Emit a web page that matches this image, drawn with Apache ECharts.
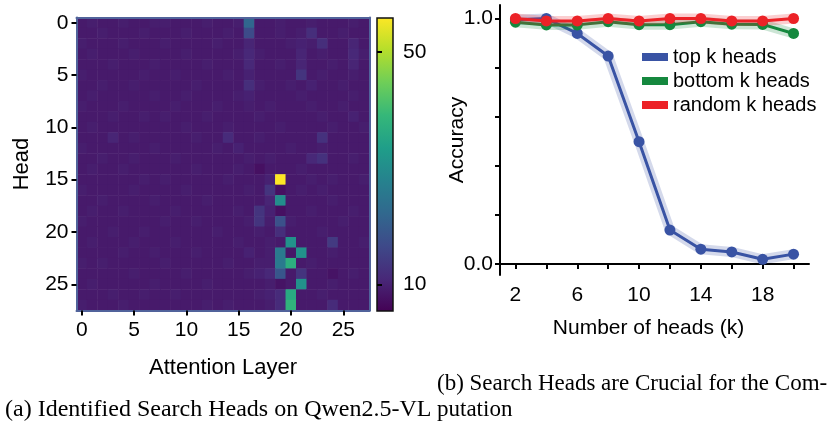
<!DOCTYPE html>
<html>
<head>
<meta charset="utf-8">
<script src="https://cdn.jsdelivr.net/npm/echarts@6/dist/echarts.min.js"></script>
<style>
  html, body { margin: 0; padding: 0; background: #fff; }
  #chart { width: 831px; height: 423px; }
</style>
</head>
<body>
<div id="chart"></div>
<script>
// ---- (a) search-head scores: rows = heads 0..27, columns = attention layers 0..27 ----
const layers = Array.from({ length: 28 }, (_, i) => String(i));
const heads = Array.from({ length: 28 }, (_, i) => String(i));
const headScores = [
  [9,9.5,9,9,9.5,9,9, 9.5,9.5,9,9,9,9.5,9, 9,9.5,22,9,9,9.5,9, 9,9.5,9,9,9,9.5,9],
  [9,9,9.5,9,9,9,9.5, 9,9,9,9.5,9,9,9, 9.5,9,17,9,9,9.5,9, 9.5,12,9,9,9.5,9,9],
  [9.5,9,9,9,9.5,9,9, 9,9.5,9,9,9,9,9.5, 9,9,10.5,9,9,9,9.5, 10,9.5,12,9,9,10.5,9],
  [9,9.5,9,9,9,9.5,9, 9,9,9,9.5,9,9,9, 9,9.5,11,9.5,9,9,9, 10.5,9,9.5,9,9,11,9.5],
  [9,9,9,9.5,9,9,9, 9.5,9,9,9,9,9.5,9, 9,9,11,9,9,9.5,9, 10.5,9,9,9.5,9,10.5,9],
  [9.5,9,9,9,9,9,9.5, 9,9,9.5,9,9,9,9, 9.5,9,10,9,9,9,9, 13,9,9.5,9,9,9.5,9],
  [9,9,9.5,9,9,9.5,9, 9,9,9,9,9.5,9,9, 9,9,12,9.5,9,9,9.5, 9,10,9,9,9.5,9,9],
  [9,9.5,9,9,9,9,9, 9.5,9,9,9.5,9,9,9, 9,9.5,10,9,9,9,9, 9.5,9,9,9,9,9.5,9],
  [9.5,9,9,9,9.5,9,9, 9,9,9.5,9,9,9,9.5, 9,9,9.5,9,9.5,9,9, 9,9.5,9,9,9.5,9,9],
  [9,9,9,9.5,9,9,9.5, 9,9.5,9,9,9,9.5,9, 9,9,9,9.5,9,9,9, 9,9,9.5,9,9,10,9],
  [9,9.5,9,9,9,9,9, 9,9,9,9.5,9,9,9, 9.5,9,9,9,9,9.5,9, 9,9,9,9.5,9,9,9.5],
  [9,9,9,10.5,9,9.5,9, 9,9,9,9,9.5,9,9, 11.5,9,9,9.5,9,9,9, 9,9,12.5,9,9,9,9],
  [9.5,9,9,9,9,9,9, 9.5,9,9,9,9,9,9.5, 9,10,9,9,9,9,9.5, 9,9,9.5,9,9,9,9],
  [9,9,9.5,9,9,9.5,9, 9,9,9.5,9,9,9,9, 9,9,9.5,9,9.5,9,9, 9,11,12.5,9,9,9.5,9],
  [9,9.5,9,9,9.5,9,9, 9,9,9,9,9.5,9,9, 9,9.5,9,7.5,9,9,9, 9.5,9,9,9,9,9,9],
  [9,9,9,9,9,9,9.5, 9,9.5,9,9,9,9,9, 9.5,9,9,9,10,55.8,9, 9,9.5,9,9.5,9,9,9.5],
  [9.5,9,9,9,9,9.5,9, 9,9,9,9.5,9,9,9, 9,9,9.5,9,13,7.5,9, 9.5,9,9.5,9,9,9,9],
  [9,9,9.5,9,9,9,9, 9.5,9,9,9,9,9.5,9, 9,9,9,9,10.5,30,9, 9,9,9,9.5,9,9,9],
  [9,9.5,9,9,9.5,9,9, 9,9,9.5,9,9,9,9, 9,9.5,9,13,10,7.5,9, 9,9.5,9,9,9,9.5,9],
  [9.5,9,9,9,9,9,9, 9,9.5,9,9,9.5,9,9, 9,9,9.5,13,9.5,18,9.5, 9,9,9,9,9.5,9,9],
  [9,9,9,9.5,9,9,9.5, 9,9,9,9,9,9,9.5, 9,9,9,9.5,9,12,9, 9,9,9.5,9,9,9,9],
  [9,9.5,9,9,9,9.5,9, 9,9,9.5,9,9,9,9, 9,9.5,9,9,9.5,9,31, 9,9,9,14,9,9,9.5],
  [9,9,9,9,9.5,9,9, 9.5,9,9,9,9.5,9,9, 9,9,10,9,9.5,26,8.5, 31,9,9,9.5,9,9,9],
  [9.5,9,9.5,9,9,9,9, 9,9.5,9,9,9,9,9, 9.5,9,9,9.5,9.5,26,37, 9,9.5,9,9,9,9,9],
  [9,9,9,9,9,9.5,9, 9,9,9,9.5,9,9,9, 9,9,9.5,10,11,19,9, 13,9,9,8,9,9.5,9],
  [9,9.5,9,9,9,9,9, 9.5,9,9,9,9,9.5,9, 9,9,9,9,9.5,8,9, 31,9,9,9.5,9,9,9],
  [9,9,9,9.5,9,9,9.5, 9,9,9.5,9,9,9,9, 9,9,9,9.5,10,11.5,36, 9,9,9.5,9,9,9,9],
  [9.5,9,9,9,9.5,9,9, 9,9,9,9,9,9.5,9, 9.5,9,9,9,9.5,11.5,38, 9,9,9,11.5,9,9,9]
];
const scoreMin = 5.4;
const scoreMax = 55.8;
const colorbarTicks = [10, 50];
const heatTickSkip = 4;   // one labelled tick every fifth cell

// ---- (b) accuracy after masking k heads ----
const kValues = [2, 4, 6, 8, 10, 12, 14, 16, 18, 20];
const kLabels = [2, 6, 10, 14, 18];
const topK    = [0.995, 1.0, 0.939, 0.847, 0.498, 0.138, 0.060, 0.049, 0.019, 0.040];
const bottomK = [0.985, 0.974, 0.974, 0.987, 0.975, 0.975, 0.987, 0.977, 0.976, 0.939];
const randomK = [1.0, 0.99, 0.99, 1.0, 0.99, 1.0, 1.0, 0.99, 0.99, 1.0];
const accTicks = [0, 0.2, 0.4, 0.6, 0.8, 1.0];
const accLabels = [0, 1.0];

const viridis = ['#440154', '#482878', '#3e4989', '#31688e', '#26828e',
                 '#1f9e89', '#35b779', '#6ece58', '#b5de2b', '#fde725'];

const FONT = '"Liberation Sans", Arial, Helvetica, sans-serif';
const SERIF = '"Liberation Serif", "Times New Roman", serif';
const frameColor = '#51639b';

const heatData = [];
headScores.forEach((row, h) => row.forEach((v, l) => heatData.push([l, h, v])));

const gradient = new echarts.graphic.LinearGradient(0, 1, 0, 0,
  viridis.map((c, i) => ({ offset: i / (viridis.length - 1), color: c })));

function series(name, color, values, z) {
  const pts = kValues.map((k, i) => [k, values[i]]);
  return [
    { // shaded spread around the mean
      type: 'line', xAxisIndex: 3, yAxisIndex: 3, data: pts, silent: true,
      symbol: 'none', z: z,
      lineStyle: { color: color, width: 10, opacity: 0.22 }
    },
    {
      name: name, type: 'line', xAxisIndex: 3, yAxisIndex: 3, data: pts,
      symbol: 'circle', symbolSize: 11, z: z + 1,
      itemStyle: { color: color },
      lineStyle: { color: color, width: 3 }
    }
  ];
}

const labelStyle = { fontSize: 21, color: '#000', fontFamily: FONT };
const heatTick = { show: true, alignWithLabel: true, interval: heatTickSkip, length: 5,
                   lineStyle: { color: '#000', width: 2 } };

const chart = echarts.init(document.getElementById('chart'), null, { renderer: 'canvas' });
chart.setOption({
  animation: false,
  textStyle: { fontFamily: FONT },
  grid: [
    { left: 76.5, top: 17.5, width: 293, height: 293 },
    { left: 377, top: 18, width: 16, height: 293, show: true,
      backgroundColor: gradient, borderColor: '#111', borderWidth: 1.5 },
    { left: 500, top: 5, width: 309, height: 270 }
  ],
  visualMap: {
    type: 'continuous', show: false, seriesIndex: 0,
    min: scoreMin, max: scoreMax, inRange: { color: viridis }
  },
  xAxis: [
    { gridIndex: 0, type: 'category', data: layers, position: 'bottom', z: 10,
      axisLine: { lineStyle: { color: frameColor, width: 2 } },
      axisTick: heatTick,
      axisLabel: Object.assign({ interval: heatTickSkip, margin: 9 }, labelStyle),
      name: 'Attention Layer', nameLocation: 'middle', nameGap: 46,
      nameTextStyle: { fontSize: 22, color: '#000', fontFamily: FONT } },
    { gridIndex: 0, type: 'category', data: layers, position: 'top', z: 10,
      axisLine: { lineStyle: { color: frameColor, width: 2 } },
      axisTick: { show: false }, axisLabel: { show: false } },
    { gridIndex: 1, type: 'value', show: false, min: 0, max: 1 },
    { gridIndex: 2, type: 'value', min: 1, max: 21,
      axisLine: { lineStyle: { color: '#000', width: 2 } },
      axisTick: { customValues: kValues, length: 5, lineStyle: { color: '#000', width: 2 } },
      axisLabel: Object.assign({ customValues: kLabels, margin: 10 }, labelStyle),
      splitLine: { show: false },
      name: 'Number of heads (k)', nameLocation: 'middle', nameGap: 43,
      nameTextStyle: { fontSize: 21, color: '#000', fontFamily: FONT, padding: [0, 12, 0, 0] } }
  ],
  yAxis: [
    { gridIndex: 0, type: 'category', data: heads, inverse: true, position: 'left', z: 10,
      axisLine: { lineStyle: { color: frameColor, width: 2 } },
      axisTick: heatTick,
      axisLabel: Object.assign({ interval: heatTickSkip, margin: 8 }, labelStyle),
      name: 'Head', nameLocation: 'middle', nameGap: 44,
      nameTextStyle: { fontSize: 22, color: '#000', fontFamily: FONT } },
    { gridIndex: 0, type: 'category', data: heads, inverse: true, position: 'right', z: 10,
      axisLine: { lineStyle: { color: frameColor, width: 2 } },
      axisTick: { show: false }, axisLabel: { show: false } },
    { gridIndex: 1, type: 'value', min: scoreMin, max: scoreMax, position: 'right',
      axisLine: { show: false },
      axisTick: { customValues: colorbarTicks, length: 5, lineStyle: { color: '#000', width: 2 } },
      axisLabel: Object.assign({ customValues: colorbarTicks, margin: 10 }, labelStyle),
      splitLine: { show: false } },
    { gridIndex: 2, type: 'value', min: -0.045, max: 1.055,
      axisLine: { show: true, lineStyle: { color: '#000', width: 2 } },
      axisTick: { show: true, customValues: accTicks, length: 5, lineStyle: { color: '#000', width: 2 } },
      axisLabel: Object.assign({ customValues: accLabels, margin: 7,
                   formatter: (v) => Number(v).toFixed(1) }, labelStyle),
      splitLine: { show: false },
      name: 'Accuracy', nameLocation: 'middle', nameGap: 32, nameMoveOverlap: false,
      nameTextStyle: { fontSize: 21, color: '#000', fontFamily: FONT } }
  ],
  legend: {
    data: ['top k heads', 'bottom k heads', 'random k heads'],
    orient: 'vertical', left: 637, top: 42,
    icon: 'rect', itemWidth: 26, itemHeight: 8, itemGap: 4,
    textStyle: { fontSize: 20, color: '#000', fontFamily: FONT }
  },
  series: [
    { type: 'heatmap', xAxisIndex: 0, yAxisIndex: 0, data: heatData,
      itemStyle: { borderWidth: 0 }, emphasis: { disabled: true } },
    ...series('top k heads', '#3953a4', topK, 2),
    ...series('bottom k heads', '#15883e', bottomK, 4),
    ...series('random k heads', '#ec2227', randomK, 6)
  ],
  graphic: [
    { type: 'text', left: 437, top: 372,
      style: { text: '(b) Search Heads are Crucial for the Com-', font: '23px ' + SERIF, fill: '#000' } },
    { type: 'text', left: 437, top: 398,
      style: { text: 'putation', font: '23px ' + SERIF, fill: '#000' } },
    { type: 'text', left: 5, top: 398,
      style: { text: '(a) Identified Search Heads on Qwen2.5-VL', font: '24px ' + SERIF, fill: '#000' } }
  ]
});
</script>
</body>
</html>
